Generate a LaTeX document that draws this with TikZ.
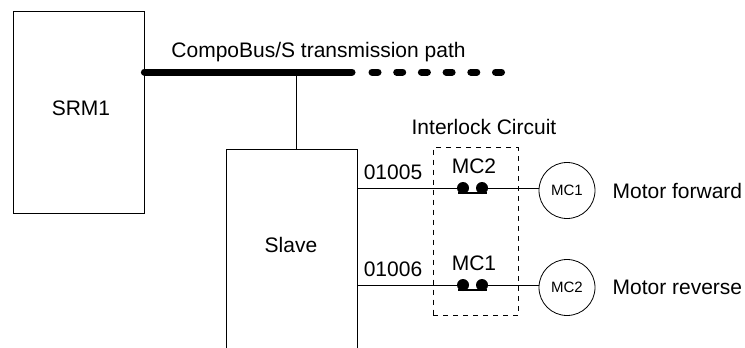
\documentclass[tikz,border=0pt]{standalone}
\usepackage{fontspec}
\setmainfont{Liberation Sans}
\usetikzlibrary{positioning}
\def\rowA{188}
\def\rowB{285}
\def\coilx{567}
\tikzset{
  box/.style={draw, line width=0.8pt, minimum width=131pt, inner sep=0pt},
  coil/.style={draw, circle, line width=0.8pt, minimum size=56pt, inner sep=0pt,
    font=\fontsize{15}{18}\selectfont},
  txt/.style={inner sep=0pt, font=\fontsize{21}{25}\selectfont},
  dot/.style={fill, circle, minimum size=12pt, inner sep=0pt},
  bus/.style={line width=7pt, line cap=round},
  wire/.style={line width=0.8pt},
}
\newcommand{\interlock}[5]{
    \node[dot] (#1l) at (463,#2) {};
    \node[dot] (#1r) at (482,#2) {};
    \draw[line width=2.6pt] ([xshift=-5pt,yshift=-5pt]#1l.center) -- ([xshift=5pt,yshift=-5pt]#1r.center);
    \node[txt] (#1lbl) at (474,#2-22) {#3};
    \node[coil] (#1coil) at (\coilx,#2+2.5) {#4};
    \node[txt] (#1out) at (393,#2-16) {#5};
    \draw[wire] (slave.east |- #1l) -- (#1l);
    \draw[wire] (#1r) -- (#1r -| #1coil.west);
}

\begin{document}
\begin{tikzpicture}[x=1pt,y=-1pt]
            \useasboundingbox (0,0) rectangle (745,348);
            \clip (0,0) rectangle (745,348);
            \node[box, minimum height=202pt] (srm) at (78.5,112) {};
            \node[txt] (srmtxt) at (81,108) {SRM1};
            \node[box, minimum height=212pt, anchor=north] (slave) at (291.5,149) {};
            \node[txt] (slavetxt) at (291,245) {Slave};
            % bus
            \coordinate (busend) at (352,72);
            \coordinate (dotsa) at (372,72);
            \coordinate (dotsb) at (502,72);
            \coordinate (tap) at (296,72);
            \draw[bus] (srm.east |- busend) -- (busend);
            \draw[bus, dash pattern=on 6pt off 18.7pt] (dotsa) -- (dotsb);
            \node[txt, anchor=base] (bustxt) at (318.5,57.5) {CompoBus/S transmission path};
            \draw[wire] (tap) -- (tap |- slave.north);
            % interlock
            \node[draw, line width=0.7pt, dash pattern=on 5pt off 5pt, minimum width=85pt,
              minimum height=168pt, inner sep=0pt] (ilock) at (475.5,231.5) {};
            \node[txt] (ilocktxt) at (484,127) {Interlock Circuit};
            \interlock{fwd}{\rowA}{MC2}{MC1}{01005}
            \interlock{rev}{\rowB}{MC1}{MC2}{01006}
            \node[txt, right=17pt of fwdcoil] (fwdtxt) {Motor forward};
            \node[txt, right=17pt of revcoil] (revtxt) {Motor reverse};
        \end{tikzpicture}
\end{document}
